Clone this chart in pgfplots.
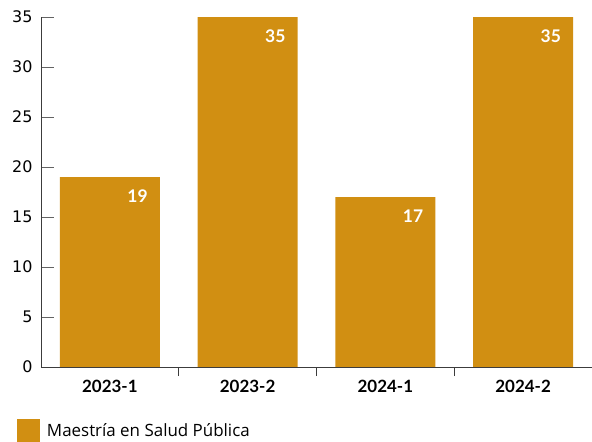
\documentclass[border=0pt]{standalone}
\usepackage{fontspec}
\setmainfont{DejaVu Sans}
\newfontfamily\labfont{Lato}
\newfontfamily\legfont{Open Sans}
\usepackage{pgfplots}
\pgfplotsset{compat=1.18}
\definecolor{barc}{RGB}{209,143,18}
\definecolor{axc}{RGB}{60,60,60}
\begin{document}
\begin{tikzpicture}
\begin{axis}[
  at={(0,0)}, anchor=south west,
  scale only axis, width=551bp, height=350bp,
  xmin=-0.5, xmax=3.5, ymin=0, ymax=35,
  axis line style={draw=none},
  tick align=inside, xtick pos=bottom, ytick pos=left,
  ytick={0,5,...,35},
  y tick style={axc!80, line width=1bp},
  major tick length=13bp,
  xtick={0,1,2,3},
  xticklabels={2023-1,2023-2,2024-1,2024-2},
  x tick style={draw=none},
  minor xtick={0.5,1.5,2.5},
  minor x tick style={axc, line width=0.9bp, draw=axc},
  minor tick length=9bp,
  x tick label style={font=\labfont\bfseries\fontsize{17}{20}\selectfont, yshift=3bp},
  y tick label style={font=\fontsize{16}{19}\selectfont, xshift=-5bp},
  /pgf/number format/assume math mode=true,
  ybar, bar width=100bp, bar shift=0pt,
  nodes near coords,
  nodes near coords style={font=\labfont\bfseries\fontsize{17.5}{20}\selectfont, text=white, anchor=east, xshift=38bp, yshift=-19bp, inner sep=0pt},
  legend style={at={(axis description cs:-0.0436,-0.214)}, anchor=south west, draw=none, inner sep=0pt, outer sep=0pt, font=\legfont\fontsize{17}{19}\selectfont, legend cell align=left},
  legend image code/.code={\fill[barc] (0bp,-11.5bp) rectangle (23bp,11.5bp);},
  clip=false,
]
\addplot[fill=barc, draw=none] coordinates {(0,19) (1,35) (2,17) (3,35)};
\addlegendentry{\hspace*{5bp}Maestría en Salud Pública}
\draw[axc, line width=0.9bp] (axis cs:-0.5,35) -- (axis cs:-0.5,0) -- (axis cs:3.5,0);
\end{axis}
\pgfresetboundingbox
\path[use as bounding box] (-41bp,-75bp) rectangle (551bp,367bp);
\end{tikzpicture}
\end{document}
